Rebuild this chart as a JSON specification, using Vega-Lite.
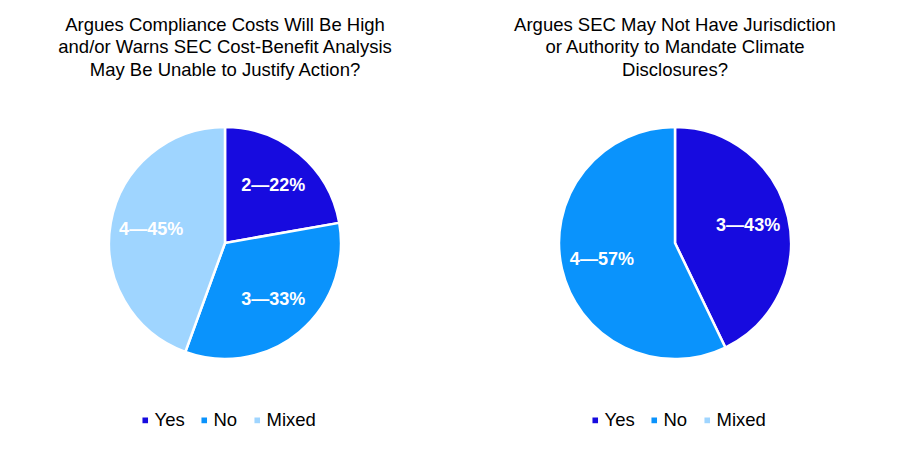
{
  "$schema": "https://vega.github.io/schema/vega-lite/v6.json",
  "padding": {"top": 15, "left": 0, "right": 0, "bottom": 0},
  "background": "white",
  "config": {
    "view": {"stroke": null},
    "font": "Liberation Sans",
    "concat": {"spacing": 0},
    "title": {"font": "Liberation Sans", "fontSize": 18.5, "fontWeight": "normal", "lineHeight": 22.5, "color": "black", "offset": 39, "anchor": "middle"},
    "legend": {"symbolType": "square", "symbolSize": 50, "labelFont": "Liberation Sans", "labelFontSize": 18.5, "labelColor": "black", "columnPadding": 10, "labelOffset": 0, "orient": "none", "direction": "horizontal", "legendX": 136, "legendY": 293, "title": null}
  },
  "datasets": {
    "pies": [
      {"chart": "A", "answer": "Yes", "count": 2, "order": 1, "label": "2—22%"},
      {"chart": "A", "answer": "No", "count": 3, "order": 2, "label": "3—33%"},
      {"chart": "A", "answer": "Mixed", "count": 4, "order": 3, "label": "4—45%"},
      {"chart": "B", "answer": "Yes", "count": 3, "order": 1, "label": "3—43%"},
      {"chart": "B", "answer": "No", "count": 4, "order": 2, "label": "4—57%"}
    ]
  },
  "resolve": {"scale": {"color": "independent", "theta": "independent"}, "legend": {"color": "independent"}},
  "hconcat": [
    {
      "width": 450, "height": 250,
      "title": {"text": ["Argues Compliance Costs Will Be High", "and/or Warns SEC Cost-Benefit Analysis", "May Be Unable to Justify Action?"]},
      "data": {"name": "pies"},
      "transform": [{"filter": "datum.chart === 'A'"}],
      "encoding": {
        "theta": {"field": "count", "type": "quantitative", "stack": true},
        "order": {"field": "order", "type": "quantitative"}
      },
      "layer": [
        {
          "mark": {"type": "arc", "radius": 116, "stroke": "white", "strokeWidth": 2.5},
          "encoding": {
            "color": {"field": "answer", "type": "nominal", "scale": {"domain": ["Yes", "No", "Mixed"], "range": ["#170BDF", "#0A93FC", "#9FD5FF"]}, "legend": {"title": null}}
          }
        },
        {
          "mark": {"type": "text", "radius": 75, "fill": "white", "fontWeight": "bold", "fontSize": 18, "font": "Liberation Sans"},
          "encoding": {"text": {"field": "label", "type": "nominal"}}
        }
      ]
    },
    {
      "width": 450, "height": 250,
      "title": {"text": ["Argues SEC May Not Have Jurisdiction", "or Authority to Mandate Climate", "Disclosures?"]},
      "data": {"name": "pies"},
      "transform": [{"filter": "datum.chart === 'B'"}],
      "encoding": {
        "theta": {"field": "count", "type": "quantitative", "stack": true},
        "order": {"field": "order", "type": "quantitative"}
      },
      "layer": [
        {
          "mark": {"type": "arc", "radius": 116, "stroke": "white", "strokeWidth": 2.5},
          "encoding": {
            "color": {"field": "answer", "type": "nominal", "scale": {"domain": ["Yes", "No", "Mixed"], "range": ["#170BDF", "#0A93FC", "#9FD5FF"]}, "legend": {"title": null}}
          }
        },
        {
          "mark": {"type": "text", "radius": 75, "fill": "white", "fontWeight": "bold", "fontSize": 18, "font": "Liberation Sans"},
          "encoding": {"text": {"field": "label", "type": "nominal"}}
        }
      ]
    }
  ]
}
